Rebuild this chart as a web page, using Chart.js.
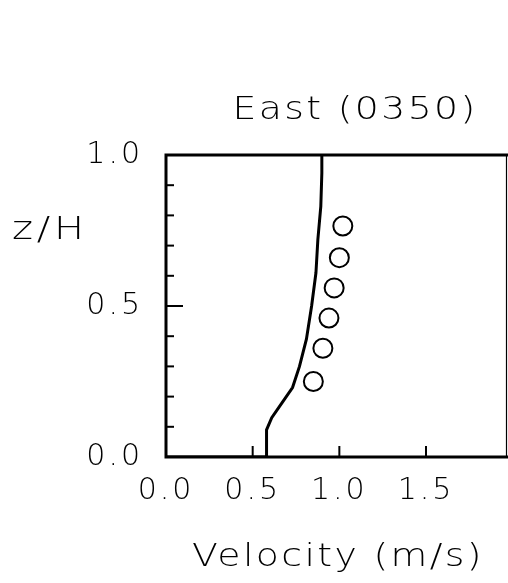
<!DOCTYPE html>
<html>
<head>
<meta charset="utf-8">
<script src="https://cdn.jsdelivr.net/npm/chart.js@4.4.1/dist/chart.umd.min.js"></script>
<style>
html,body{margin:0;padding:0;background:#fff;overflow:hidden;}
canvas{display:block;}
</style>
</head>
<body>
<canvas id="c" width="508" height="583"></canvas>
<script>
// ---- data ----
const titleText = "East (0350)";
const xAxisTitle = "Velocity (m/s)";
const yAxisTitle = "z/H";
const xTickValues = [0.0, 0.5, 1.0, 1.5];
const yTickValues = [0.0, 0.1, 0.2, 0.3, 0.4, 0.5, 0.6, 0.7, 0.8, 0.9, 1.0];
const yLabelledTicks = [0.0, 0.5, 1.0];
// model profile (solid line)
const modelVelocity = [0.00, 0.58, 0.58, 0.61, 0.67, 0.73, 0.77, 0.81, 0.84, 0.865, 0.876, 0.893, 0.899, 0.899];
const modelHeight   = [0.00, 0.00, 0.09, 0.13, 0.18, 0.23, 0.30, 0.39, 0.50, 0.61, 0.72, 0.83, 0.94, 1.00];
// measurements (open circles)
const measVelocity = [1.02, 1.00, 0.97, 0.94, 0.905, 0.85];
const measHeight   = [0.765, 0.66, 0.56, 0.46, 0.36, 0.25];

const FONT = "'DejaVu Sans', sans-serif";
const INK = '#000';

const spacingPlugin = {
  id: 'spacing',
  beforeDraw(chart) { chart.ctx.letterSpacing = '3px'; }
};

function wideText(ctx, text, x, y, align, sx) {
  ctx.save();
  ctx.translate(x, y);
  ctx.scale(sx, 1);
  ctx.textAlign = align;
  ctx.fillText(text, 0, 0);
  ctx.restore();
}

const framePlugin = {
  id: 'frame',
  afterDraw(chart) {
    const {ctx, chartArea: a, scales: {x, y}} = chart;
    ctx.save();
    ctx.strokeStyle = INK;
    ctx.lineCap = 'square';
    ctx.lineWidth = 3;
    ctx.beginPath();
    ctx.moveTo(a.right, a.top); ctx.lineTo(a.left, a.top);
    ctx.lineTo(a.left, a.bottom); ctx.lineTo(a.right, a.bottom);
    ctx.stroke();
    ctx.lineWidth = 1.2;
    ctx.beginPath();
    ctx.moveTo(a.right - 1, a.top); ctx.lineTo(a.right - 1, a.bottom);
    ctx.stroke();
    ctx.lineWidth = 2;
    ctx.lineCap = 'butt';
    yTickValues.forEach(v => {
      const py = y.getPixelForValue(v);
      const len = Math.abs(v - 0.5) < 1e-6 ? 17 : 8;
      ctx.beginPath(); ctx.moveTo(a.left, py); ctx.lineTo(a.left + len, py); ctx.stroke();
    });
    xTickValues.forEach(v => {
      if (v === 0) return;
      const px = x.getPixelForValue(v);
      ctx.beginPath(); ctx.moveTo(px, a.bottom); ctx.lineTo(px, a.bottom - 11); ctx.stroke();
    });
    ctx.fillStyle = INK;
    ctx.textBaseline = 'middle';
    ctx.font = "200 32px " + FONT;
    ctx.letterSpacing = '2px';
    wideText(ctx, titleText, 355, 111, 'center', 1.18);
    wideText(ctx, xAxisTitle, 338, 558, 'center', 1.18);
    ctx.letterSpacing = '3px';
    wideText(ctx, yAxisTitle, 12, 231, 'left', 1.25);
    ctx.restore();
  }
};

new Chart(document.getElementById('c'), {
  type: 'scatter',
  data: {
    datasets: [
      {
        type: 'line',
        data: modelVelocity.map((v, i) => ({x: v, y: modelHeight[i]})),
        borderColor: INK,
        borderWidth: 3,
        pointRadius: 0,
        tension: 0,
        fill: false
      },
      {
        data: measVelocity.map((v, i) => ({x: v, y: measHeight[i]})),
        pointStyle: 'circle',
        pointRadius: 9.5,
        borderColor: INK,
        borderWidth: 2,
        backgroundColor: 'rgba(0,0,0,0)',
        showLine: false
      }
    ]
  },
  options: {
    responsive: false,
    animation: false,
    layout: {autoPadding: false, padding: {top: 155, right: 0.5, left: 0, bottom: 0}},
    plugins: {legend: {display: false}, tooltip: {enabled: false}, title: {display: false}},
    scales: {
      x: {
        type: 'linear', min: 0, max: 1.97,
        grid: {display: false, drawTicks: false},
        border: {display: false},
        afterBuildTicks: s => { s.ticks = xTickValues.map(v => ({value: v})); },
        afterFit: s => { s.height = 126; s.paddingLeft = 0; s.paddingRight = 0; },
        ticks: {
          padding: 16,
          autoSkip: false,
          color: INK,
          font: {family: FONT, size: 30, weight: '200'},
          callback: v => Number(v).toFixed(1),
          maxRotation: 0
        }
      },
      y: {
        type: 'linear', min: 0, max: 1,
        grid: {display: false, drawTicks: false},
        border: {display: false},
        afterBuildTicks: s => { s.ticks = yTickValues.map(v => ({value: v})); },
        afterFit: s => { s.width = 166; s.paddingTop = 0; s.paddingBottom = 0; },
        ticks: {
          padding: 23,
          autoSkip: false,
          color: INK,
          font: {family: FONT, size: 30, weight: '200'},
          callback: v => yLabelledTicks.some(l => Math.abs(l - v) < 1e-6) ? Number(v).toFixed(1) : ''
        }
      }
    }
  },
  plugins: [spacingPlugin, framePlugin]
});
</script>
</body>
</html>
